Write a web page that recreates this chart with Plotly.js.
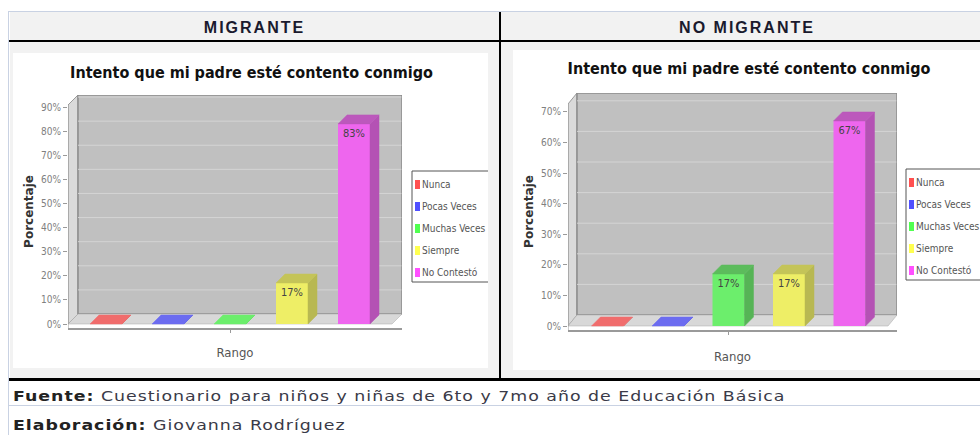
<!DOCTYPE html>
<html>
<head>
<meta charset="utf-8">
<script src="https://cdn.plot.ly/plotly-3.0.1.min.js"></script>
<style>
  html, body { margin: 0; padding: 0; width: 980px; height: 435px; overflow: hidden; background: #fff; }
  .abs { position: absolute; }
  .hdr { font-family: "Liberation Sans", Arial, sans-serif; font-weight: bold; font-size: 16px;
         letter-spacing: 2px; line-height: 18px; color: #1a1a2e; text-align: center; }
  .foot { font-family: "DejaVu Sans", sans-serif; font-size: 14px; line-height: 16px;
          color: #3a3a48; letter-spacing: 0.8px; white-space: nowrap;
          transform: scaleX(1.24); transform-origin: left top; }
  .foot b { color: #222; }
</style>
</head>
<body>
<!-- table frame -->
<div class="abs" style="left:10px;top:12px;width:970px;height:367px;background:#f2f2f2;"></div>
<div class="abs" style="left:9px;top:11px;width:971px;height:1px;background:#c9d2e3;"></div>
<div class="abs" style="left:8px;top:11px;width:1px;height:424px;background:#c9d2e3;"></div>
<div class="abs" style="left:9px;top:40px;width:971px;height:2px;background:#000;"></div>
<div class="abs" style="left:499px;top:12px;width:2px;height:368px;background:#000;"></div>
<div class="abs" style="left:9px;top:378px;width:971px;height:3px;background:#000;"></div>
<div class="abs" style="left:9px;top:381px;width:971px;height:54px;background:#fff;"></div>
<div class="abs" style="left:9px;top:405px;width:971px;height:1px;background:#c9d2e3;"></div>

<div class="abs hdr" style="left:10px;top:19px;width:489px;">MIGRANTE</div>
<div class="abs hdr" style="left:501px;top:19px;width:492px;">NO MIGRANTE</div>

<div id="chartMigrante" class="abs" style="left:13px;top:53px;width:475px;height:315px;"></div>
<div id="chartNoMigrante" class="abs" style="left:513px;top:50px;width:480px;height:320px;"></div>

<div class="abs foot" style="left:13px;top:388px;"><b>Fuente:</b> Cuestionario para niños y niñas de 6to y 7mo año de Educación Básica</div>
<div class="abs foot" style="left:13px;top:417px;"><b>Elaboración:</b> Giovanna Rodríguez</div>

<script>
// Data
const categories = ["Nunca", "Pocas Veces", "Muchas Veces", "Siempre", "No Contestó"];
const migranteValues = [0, 0, 0, 17, 83];
const noMigranteValues = [0, 0, 17, 17, 67];
const migranteTicks = [0, 10, 20, 30, 40, 50, 60, 70, 80, 90];
const noMigranteTicks = [0, 10, 20, 30, 40, 50, 60, 70];
const chartTitle = "Intento que mi padre esté contento conmigo";
const xTitle = "Rango";
const yTitle = "Porcentaje";

// Bar face colours
const frontColors = ["#f06c6c", "#6c6cf0", "#6cee6c", "#eeee66", "#ee66ee"];
const sideColors = ["#c05656", "#5656c0", "#56b456", "#b8b852", "#b452b4"];
const topColors = ["#c86060", "#6060c8", "#5cbc5c", "#c4c458", "#bc58bc"];
const legendColors = ["#ff5050", "#5050ff", "#50ff50", "#ffff50", "#ff50ff"];

const NARROW = '"Liberation Sans Narrow", "DejaVu Sans Condensed", "Liberation Sans", sans-serif';

// Pixel geometry of each chart image (relative to its div)
const geoMigrante = {
  divW: 475, divH: 315, l: 55, t: 42, w: 334, h: 233,
  zero: 271, pxPct: 2.411, pxCat: 62, cat0: 93, barPx: 32,
  wallDx: 10, wallDy: 10, titleX: 238.5, titleY: 19,
  legX: 399, legY: 118, xStandoff: 14,
};
const geoNoMigrante = {
  divW: 480, divH: 320, l: 55, t: 43, w: 329, h: 237,
  zero: 276, pxPct: 3.06, pxCat: 60.5, cat0: 94.5, barPx: 32,
  wallDx: 9, wallDy: 11, titleX: 236, titleY: 18,
  legX: 393, legY: 119, xStandoff: 16,
};

function drawChart(divId, values, ticks, g) {
  const xMin = -(g.cat0 - g.l) / g.pxCat;
  const xMax = xMin + g.w / g.pxCat;
  const yMax = (g.zero - g.t) / g.pxPct;
  const yMin = -(g.t + g.h - g.zero) / g.pxPct;
  const ux = 1 / g.pxCat, uy = 1 / g.pxPct;
  const half = (g.barPx * ux) / 2;
  const bdx = 9 * ux, bdy = 9 * uy;
  const wdx = g.wallDx * ux, wdy = g.wallDy * uy;

  // paper coords from div pixels (for the legend)
  const px2x = (px) => (px - g.l) / g.w;
  const py2y = (py) => 1 - (py - g.t) / g.h;

  const traces = [];
  values.forEach((v, i) => {
    traces.push({
      type: "bar", x: [i], y: [v], width: g.barPx * ux,
      name: categories[i],
      marker: { color: frontColors[i], line: { width: 0 } },
      text: [v > 0 ? v + "%" : ""],
      textposition: "inside", insidetextanchor: "end", textangle: 0,
      textfont: { family: NARROW, size: 11, color: "#444" },
      hoverinfo: "skip", showlegend: false,
    });
  });
  values.forEach((v, i) => {
    const x0 = i - half, x1 = i + half;
    // side face
    traces.push({
      type: "scatter", mode: "lines", fill: "toself",
      x: [x1, x1 + bdx, x1 + bdx, x1, x1],
      y: [0, bdy, v + bdy, v, 0],
      fillcolor: sideColors[i], line: { width: 0.5, color: sideColors[i] },
      hoverinfo: "skip", showlegend: false,
    });
    // top face
    const tc = v > 0 ? topColors[i] : frontColors[i];
    traces.push({
      type: "scatter", mode: "lines", fill: "toself",
      x: [x0, x0 + bdx, x1 + bdx, x1, x0],
      y: [v, v + bdy, v + bdy, v, v],
      fillcolor: tc, line: { width: 0.5, color: tc },
      hoverinfo: "skip", showlegend: false,
    });
  });

  const shapes = [
    { // left side wall
      type: "path", xref: "x", yref: "y", layer: "below",
      path: `M${xMin},0 L${xMin},${yMax - wdy} L${xMin + wdx},${yMax} L${xMin + wdx},${wdy} Z`,
      fillcolor: "#dadada", line: { color: "#9a9a9a", width: 1 },
    },
    { // back wall
      type: "rect", xref: "x", yref: "y", layer: "below",
      x0: xMin + wdx, x1: xMax, y0: wdy, y1: yMax,
      fillcolor: "#c0c0c0", line: { color: "#8c8c8c", width: 1.5 },
    },
    { // floor
      type: "path", xref: "x", yref: "y", layer: "below",
      path: `M${xMin},0 L${xMax - wdx},0 L${xMax},${wdy} L${xMin + wdx},${wdy} Z`,
      fillcolor: "#d8d8d8", line: { color: "#a8a8a8", width: 0.5 },
    },
  ];
  ticks.slice(1).forEach((v) => {
    shapes.push({
      type: "line", xref: "x", yref: "y", layer: "below",
      x0: xMin + wdx, x1: xMax - 0.01, y0: v + wdy, y1: v + wdy,
      line: { color: "#d4d4d4", width: 1 },
    });
  });
  // front y axis line
  shapes.push({
    type: "line", xref: "x", yref: "y",
    x0: xMin, x1: xMin, y0: yMin, y1: yMax - wdy,
    line: { color: "#9a9a9a", width: 1 },
  });

  // legend box
  const legW = 77, legH = 111, rowGap = 22, row0 = 13.5;
  shapes.push({
    type: "rect", xref: "paper", yref: "paper",
    x0: px2x(g.legX), x1: px2x(g.legX + legW),
    y0: py2y(g.legY), y1: py2y(g.legY + legH),
    fillcolor: "#ffffff", line: { color: "#555", width: 1 },
  });
  const annotations = [];
  categories.forEach((name, i) => {
    const cy = g.legY + row0 + rowGap * i;
    shapes.push({
      type: "rect", xref: "paper", yref: "paper",
      x0: px2x(g.legX + 3), x1: px2x(g.legX + 8),
      y0: py2y(cy - 4.5), y1: py2y(cy + 4.5),
      fillcolor: legendColors[i], line: { width: 0 },
    });
    annotations.push({
      xref: "paper", yref: "paper", x: px2x(g.legX + 8), y: py2y(cy),
      xanchor: "left", yanchor: "middle", showarrow: false,
      text: name, font: { family: NARROW, size: 10, color: "#555" },
    });
  });

  const layout = {
    width: g.divW, height: g.divH,
    margin: { l: g.l, r: g.divW - g.l - g.w, t: g.t, b: g.divH - g.t - g.h, pad: 0 },
    paper_bgcolor: "#ffffff", plot_bgcolor: "#ffffff",
    barmode: "overlay", showlegend: false,
    title: {
      text: "<b>" + chartTitle + "</b>",
      font: { family: NARROW, size: 16, color: "#111" },
      xref: "container", yref: "container",
      x: g.titleX / g.divW, y: 1 - g.titleY / g.divH,
      xanchor: "center", yanchor: "middle",
    },
    xaxis: {
      range: [xMin, xMax], showgrid: false, zeroline: false,
      showline: true, linecolor: "#9a9a9a", linewidth: 1.5,
      tickvals: [2], ticktext: [""], ticks: "outside", ticklen: 3, tickcolor: "#9a9a9a",
      title: { text: xTitle, font: { family: NARROW, size: 13, color: "#555" }, standoff: g.xStandoff },
      fixedrange: true,
    },
    yaxis: {
      range: [yMin, yMax], showgrid: false, zeroline: false, showline: false,
      tickvals: ticks, ticktext: ticks.map((v) => v + "%"),
      ticks: "outside", ticklen: 4, tickcolor: "#9a9a9a",
      tickfont: { family: NARROW, size: 10, color: "#808080" },
      title: { text: "<b>" + yTitle + "</b>", font: { family: "DejaVu Sans", size: 12, color: "#333" }, standoff: 4 },
      fixedrange: true,
    },
    shapes: shapes,
    annotations: annotations,
  };

  Plotly.newPlot(divId, traces, layout, { displayModeBar: false, staticPlot: true });
}

drawChart("chartMigrante", migranteValues, migranteTicks, geoMigrante);
drawChart("chartNoMigrante", noMigranteValues, noMigranteTicks, geoNoMigrante);
</script>
</body>
</html>
